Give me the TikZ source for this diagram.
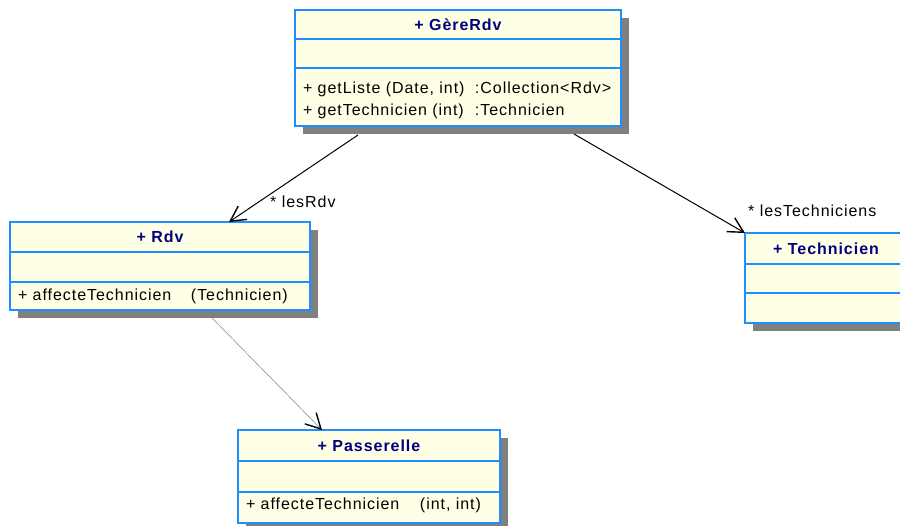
\documentclass[tikz,border=0pt]{standalone}
\usepackage{fontspec}
\setmainfont{Liberation Sans}[LetterSpace=6]
\usetikzlibrary{positioning, backgrounds, arrows.meta, calc}

\definecolor{umlblue}{HTML}{1E8FFF}
\definecolor{umlfill}{HTML}{FFFFE6}
\definecolor{umlnavy}{HTML}{000080}
\definecolor{umlshadow}{HTML}{808080}

\tikzset{%
  % Specifications for style of nodes:
    classpart/.style = {rectangle, draw=umlblue, line width=1.5pt, fill=umlfill, inner sep=0pt, outer sep=0pt,
                        minimum height=30pt, font=\fontsize{16}{22}\selectfont},
    classhead/.style = {classpart, anchor=north west, font=\fontsize{16}{22}\selectfont\bfseries, text=umlnavy},
    classops/.style  = {classpart, align=left, inner xsep=8pt},
    classshadow/.style = {fill=umlshadow},
  % Specifications for style of arrows:
    assoc/.style  = {draw=black, line width=1pt, -{Straight Barb[length=15pt, width=16pt, line width=1.4pt]}},
    depend/.style = {draw=gray, line width=0.5pt, -{Straight Barb[length=15pt, width=16pt, line width=1.4pt, black]}},
    role/.style   = {anchor=west, inner sep=0pt, font=\fontsize{16}{20}\selectfont},
}

\begin{document}
\begin{tikzpicture}[x=1pt, y=-1pt]
    \useasboundingbox (0,0) rectangle (900,526);
    \clip (0,0) rectangle (900,526);

    % Draw classes
    \node (gere-head)  [classhead, minimum width=326pt, minimum height=29pt]   at (295,10) {+ GèreRdv};
    \node (gere-attr)  [classpart, minimum width=326pt, minimum height=29pt, below=0pt of gere-head]  {};
    \node (gere-ops)   [classops, text width=310pt, minimum height=58pt, text depth=18pt, below=0pt of gere-attr]
        {\makebox[172pt][l]{+ getListe (Date, int)}:Collection<Rdv>\\
         \makebox[172pt][l]{+ getTechnicien (int)}:Technicien};

    \node (rdv-head)   [classhead, minimum width=300pt]                         at (10,222) {+ Rdv};
    \node (rdv-attr)   [classpart, minimum width=300pt, below=0pt of rdv-head]   {};
    \node (rdv-ops)    [classops, text width=284pt, minimum height=28pt, below=0pt of rdv-attr]
        {\makebox[173pt][l]{+ affecteTechnicien}(Technicien)};

    \node (tech-head)  [classhead, minimum width=162pt, minimum height=31pt]   at (745,233) {+ Technicien};
    \node (tech-attr)  [classpart, minimum width=162pt, minimum height=29pt, below=0pt of tech-head]  {};
    \node (tech-ops)   [classpart, minimum width=162pt, below=0pt of tech-attr]  {};

    \node (pass-head)  [classhead, minimum width=262pt, minimum height=31pt]   at (238,430) {+ Passerelle};
    \node (pass-attr)  [classpart, minimum width=262pt, minimum height=31pt, below=0pt of pass-head]  {};
    \node (pass-ops)   [classops, text width=246pt, minimum height=31pt, text depth=7pt, below=0pt of pass-attr]
        {\makebox[174pt][l]{+ affecteTechnicien}(int, int)};

    % Draw shadows
    \begin{scope}[on background layer]
      \foreach \cls in {gere, rdv, tech, pass}
        \fill[classshadow] ($(\cls-head.north west)+(8,8)$) rectangle ($(\cls-ops.south east)+(8,8)$);
    \end{scope}

    % Draw arrows
    \draw[assoc]  ($(gere-ops.south west)+(63,9)$)  -- ($(rdv-head.north west)+(219,0)$);
    \draw[assoc]  ($(gere-ops.south west)+(279,8)$) -- (tech-head.north west);
    \draw[depend] ($(rdv-ops.south west)+(202,8)$)  -- ($(pass-head.north west)+(84,0)$);

    % Draw roles
    \node (role-rdv)  [role] at (270,202) {* lesRdv};
    \node (role-tech) [role] at (748,211) {* lesTechniciens};

\end{tikzpicture}
\end{document}
